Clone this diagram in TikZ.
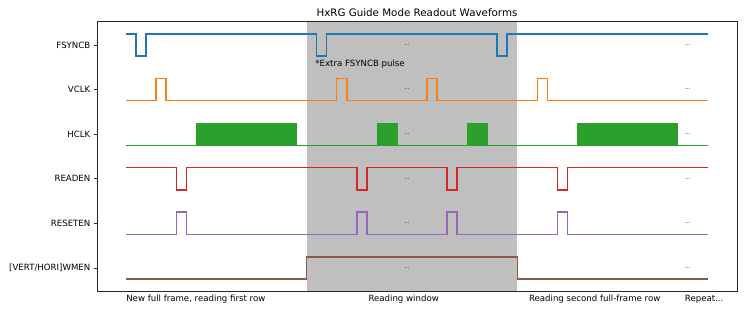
\documentclass[tikz,border=0pt]{standalone}
\usepackage{fontspec}
\setmainfont{DejaVu Sans}
\usepackage{tikz}
\usetikzlibrary{positioning}
\definecolor{fsyncblue}{HTML}{1F77B4}
\definecolor{vclkorange}{HTML}{FF7F0E}
\definecolor{hclkgreen}{HTML}{2CA02C}
\definecolor{readred}{HTML}{D62728}
\definecolor{resetpurple}{HTML}{9467BD}
\definecolor{wmenbrown}{HTML}{8C564B}
\definecolor{windowgray}{HTML}{BFBFBF}

\begin{document}
\begin{tikzpicture}[
          x=1pt, y=-1pt,
          wave/.style={line width=1.5pt, line join=miter},
          axis/.style={draw=black!85, line width=0.8pt},
          lbl/.style={font=\fontsize{8.6}{10}\selectfont, inner sep=0pt},
          dots/.style={font=\fontsize{6}{7}\selectfont, color=black!85, inner sep=0pt},
          ttl/.style={font=\fontsize{10.3}{12}\selectfont, inner sep=0pt}
        ]
        \useasboundingbox (0,0) rectangle (747,312);
        \begin{scope}[shift={(126.1,45)}, x=10.03pt, y=-44.6pt]
        % Reading window
        \fill[windowgray] (18,-0.525) rectangle (39,5.525);
        % Axes frame and ticks
        \draw[axis] (-2.9,-0.525) rectangle (60.9,5.525);
        \coordinate (top) at (29,-0.525);
        \foreach \name [count=\i from 0] in {FSYNCB, VCLK, HCLK, READEN, RESETEN, {[VERT/HORI]WMEN}} {
          \draw[axis] (-2.9,\i) -- ++(-3.5pt,0);
          \node[lbl, anchor=east, xshift=-6.5pt] (row\i) at (-2.9,\i) {\name};
        }
        % Waveforms
        \draw[wave, fsyncblue] (0,-.25) -- (1,-.25) -- (1,.25) -- (2,.25) -- (2,-.25)
          -- (19,-.25) -- (19,.25) -- (20,.25) -- (20,-.25)
          -- (37,-.25) -- (37,.25) -- (38,.25) -- (38,-.25) -- (58,-.25);
        \draw[wave, vclkorange] (0,1.25) -- (3,1.25) -- (3,.75) -- (4,.75) -- (4,1.25)
          -- (21,1.25) -- (21,.75) -- (22,.75) -- (22,1.25)
          -- (30,1.25) -- (30,.75) -- (31,.75) -- (31,1.25)
          -- (41,1.25) -- (41,.75) -- (42,.75) -- (42,1.25) -- (58,1.25);
        \draw[wave, hclkgreen] (0,2.25) -- (58,2.25);
        \foreach \a/\b in {7/17, 25/27, 34/36, 45/55}
          \filldraw[hclkgreen, line width=0.6pt] (\a,2.25) rectangle (\b,1.75);
        \draw[wave, readred] (0,2.75) -- (5,2.75) -- (5,3.25) -- (6,3.25) -- (6,2.75)
          -- (23,2.75) -- (23,3.25) -- (24,3.25) -- (24,2.75)
          -- (32,2.75) -- (32,3.25) -- (33,3.25) -- (33,2.75)
          -- (43,2.75) -- (43,3.25) -- (44,3.25) -- (44,2.75) -- (58,2.75);
        \draw[wave, resetpurple] (0,4.25) -- (5,4.25) -- (5,3.75) -- (6,3.75) -- (6,4.25)
          -- (23,4.25) -- (23,3.75) -- (24,3.75) -- (24,4.25)
          -- (32,4.25) -- (32,3.75) -- (33,3.75) -- (33,4.25)
          -- (43,4.25) -- (43,3.75) -- (44,3.75) -- (44,4.25) -- (58,4.25);
        \draw[wave, wmenbrown] (0,5.25) -- (18,5.25) -- (18,4.75) -- (39,4.75) -- (39,5.25) -- (58,5.25);
        % Continuation marks
        \foreach \i in {0,...,5} {
          \node[dots] (gap\i) at (28,\i) {...};
          \node[dots] (more\i) at (56,\i) {...};
        }
        \node[lbl, anchor=west] (extra) at (18.85,0.43) {*Extra FSYNCB pulse};
        % Phase labels
        \node[lbl, anchor=west] (newframe) at (0,5.70) {New full frame, reading first row};
        \node[lbl, anchor=west] (window) at (24.15,5.70) {Reading window};
        \node[lbl, anchor=west] (second) at (40.15,5.70) {Reading second full-frame row};
        \node[lbl, anchor=west] (repeat) at (55.7,5.70) {Repeat...};
        \end{scope}
        % Title
        \node[ttl, above=5pt of top] (title) {HxRG Guide Mode Readout Waveforms};
      \end{tikzpicture}
\end{document}
